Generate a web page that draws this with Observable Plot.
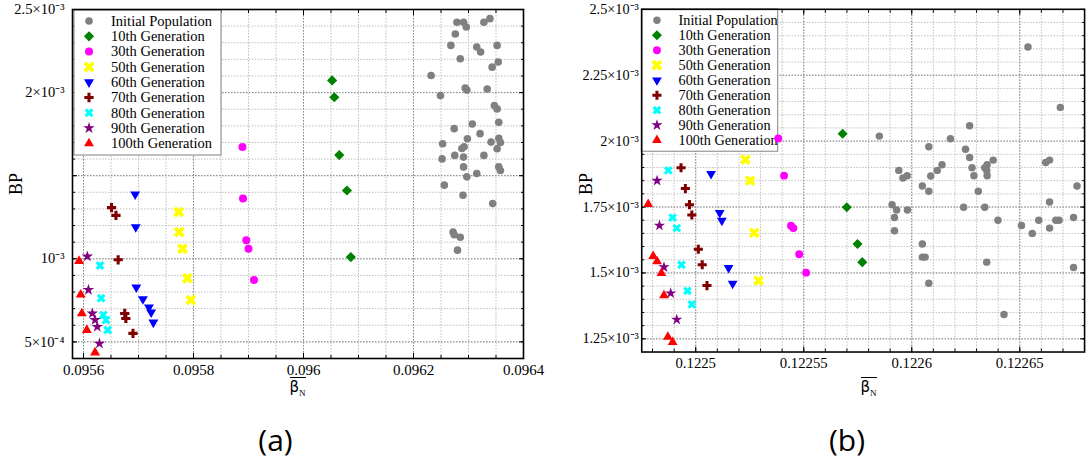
<!DOCTYPE html>
<html><head><meta charset="utf-8">
<script src="https://cdn.jsdelivr.net/npm/d3@7"></script>
<script src="https://cdn.jsdelivr.net/npm/@observablehq/plot@0.6"></script>
<style>
html,body{margin:0;padding:0;background:#fff;overflow:hidden;}
#root{position:relative;width:1089px;height:463px;overflow:hidden;background:#fff;}
.panel{position:absolute;top:0;}
.xlab{position:absolute;top:377px;transform:translateX(-50%);border-top:1.3px solid #000;padding-top:2px;line-height:15px;font-family:"DejaVu Sans";font-size:15px;white-space:nowrap;}
.xlab span{font-family:"Liberation Serif";font-size:9px;position:relative;top:4px;}
.ylab{position:absolute;font-family:"Liberation Serif";font-size:18px;line-height:18px;transform:translate(-50%,-50%) rotate(-90deg);white-space:nowrap;}
.cap{position:absolute;top:422px;transform:translateX(-50%);font-family:"Open Sans";font-size:30px;line-height:36px;white-space:nowrap;}
</style></head>
<body>
<div id="root">
  <div id="pa" class="panel" style="left:0px"></div>
  <div id="pb" class="panel" style="left:545px"></div>
  <div class="ylab" style="left:16px;top:184px">BP</div>
  <div class="ylab" style="left:586px;top:184px">BP</div>
  <div class="xlab" style="left:297.5px">β<span>N</span></div>
  <div class="xlab" style="left:868.5px">β<span>N</span></div>
  <div class="cap" style="left:275.5px">(a)</div>
  <div class="cap" style="left:847px">(b)</div>
</div>
<script>
// ---------- Series names & colours ----------
const seriesNames = ["Initial Population","10th Generation","30th Generation","50th Generation","60th Generation","70th Generation","80th Generation","90th Generation","100th Generation"];
const seriesColors = ["#808080","#008000","#ff00ff","#ffff00","#0000ff","#800000","#00ffff","#800080","#ff0000"];

// ---------- Panel (a) data: [beta_N, BP] ----------
const aInitial = [[0.096279,2.423e-3],[0.096291,2.423e-3],[0.096296,2.395e-3],[0.096328,2.423e-3],[0.096339,2.445e-3],[0.096276,2.353e-3],[0.096268,2.284e-3],[0.096315,2.274e-3],[0.096322,2.244e-3],[0.096352,2.284e-3],[0.096285,2.204e-3],[0.096354,2.184e-3],[0.096343,2.153e-3],[0.096232,2.103e-3],[0.096249,1.982e-3],[0.096294,2.027e-3],[0.096297,2.015e-3],[0.096334,2.022e-3],[0.096347,1.922e-3],[0.096352,1.902e-3],[0.096355,1.821e-3],[0.096307,1.811e-3],[0.096274,1.783e-3],[0.096321,1.753e-3],[0.096298,1.722e-3],[0.096341,1.702e-3],[0.096355,1.725e-3],[0.096358,1.700e-3],[0.096352,1.662e-3],[0.096253,1.692e-3],[0.096292,1.674e-3],[0.096288,1.664e-3],[0.096275,1.622e-3],[0.096291,1.612e-3],[0.096328,1.622e-3],[0.096252,1.601e-3],[0.096291,1.553e-3],[0.096355,1.553e-3],[0.096358,1.531e-3],[0.096315,1.513e-3],[0.096297,1.493e-3],[0.096256,1.443e-3],[0.096290,1.382e-3],[0.096344,1.332e-3],[0.096272,1.161e-3],[0.096274,1.145e-3],[0.096285,1.130e-3],[0.096280,1.052e-3]];
const a10 = [[0.096052,2.073e-3],[0.096056,1.972e-3],[0.096065,1.624e-3],[0.096079,1.411e-3],[0.096086,1.010e-3]];
const a30 = [[0.095889,1.672e-3],[0.095890,1.362e-3],[0.095896,1.111e-3],[0.095900,1.060e-3],[0.095910,0.873e-3]];
const a50 = [[0.095773,1.281e-3],[0.095774,1.161e-3],[0.095780,1.060e-3],[0.095789,0.883e-3],[0.095795,0.752e-3]];
const a60 = [[0.095694,1.388e-3],[0.095695,1.191e-3],[0.095696,0.828e-3],[0.095708,0.758e-3],[0.095719,0.708e-3],[0.095723,0.678e-3],[0.095727,0.617e-3]];
const a70 = [[0.095651,1.308e-3],[0.095659,1.261e-3],[0.095663,0.994e-3],[0.095675,0.671e-3],[0.095677,0.641e-3],[0.095690,0.551e-3]];
const a80 = [[0.095630,0.960e-3],[0.095632,0.762e-3],[0.095636,0.662e-3],[0.095641,0.632e-3],[0.095644,0.571e-3]];
const a90 = [[0.095607,1.014e-3],[0.095609,0.813e-3],[0.095616,0.671e-3],[0.095621,0.632e-3],[0.095625,0.591e-3],[0.095629,0.490e-3]];
const a100 = [[0.095592,0.986e-3],[0.095595,0.784e-3],[0.095597,0.671e-3],[0.095606,0.571e-3],[0.095621,0.436e-3]];

// ---------- Panel (b) data ----------
const bInitial = [[0.1226538,2.357e-3],[0.1226688,2.128e-3],[0.1225850,2.019e-3],[0.1226268,2.058e-3],[0.1226179,2.009e-3],[0.1226079,1.979e-3],[0.1226249,1.969e-3],[0.1226268,1.938e-3],[0.1226377,1.928e-3],[0.1225940,1.889e-3],[0.1225959,1.860e-3],[0.1225979,1.869e-3],[0.1226088,1.868e-3],[0.1226118,1.889e-3],[0.1226140,1.910e-3],[0.1226279,1.899e-3],[0.1226338,1.899e-3],[0.1226349,1.910e-3],[0.1226347,1.889e-3],[0.1226349,1.869e-3],[0.1226288,1.869e-3],[0.1226049,1.830e-3],[0.1226079,1.810e-3],[0.1226308,1.810e-3],[0.1226620,1.919e-3],[0.1226638,1.928e-3],[0.1226765,1.830e-3],[0.1225909,1.759e-3],[0.1225930,1.739e-3],[0.1225980,1.739e-3],[0.1225920,1.710e-3],[0.1225920,1.660e-3],[0.1226240,1.749e-3],[0.1226338,1.749e-3],[0.1226638,1.769e-3],[0.1226399,1.700e-3],[0.1226508,1.680e-3],[0.1226558,1.650e-3],[0.1226588,1.700e-3],[0.1226638,1.670e-3],[0.1226667,1.700e-3],[0.1226682,1.700e-3],[0.1226749,1.710e-3],[0.1226049,1.610e-3],[0.1226049,1.560e-3],[0.1226062,1.560e-3],[0.1226347,1.541e-3],[0.1226079,1.461e-3],[0.1226427,1.342e-3],[0.1226749,1.521e-3]];
const b10 = [[0.1225680,2.028e-3],[0.1225699,1.749e-3],[0.1225749,1.610e-3],[0.1225771,1.541e-3]];
const b30 = [[0.1225382,2.010e-3],[0.1225409,1.869e-3],[0.1225441,1.679e-3],[0.1225452,1.670e-3],[0.1225479,1.571e-3],[0.1225511,1.501e-3]];
const b50 = [[0.1225230,1.930e-3],[0.1225252,1.850e-3],[0.1225271,1.652e-3],[0.1225291,1.471e-3]];
const b60 = [[0.1225071,1.876e-3],[0.1225111,1.728e-3],[0.1225121,1.699e-3],[0.1225152,1.519e-3],[0.1225171,1.460e-3]];
const b70 = [[0.1224932,1.899e-3],[0.1224952,1.820e-3],[0.1224971,1.759e-3],[0.1224982,1.720e-3],[0.1225012,1.590e-3],[0.1225030,1.531e-3],[0.1225052,1.452e-3]];
const b80 = [[0.1224873,1.889e-3],[0.1224893,1.710e-3],[0.1224912,1.670e-3],[0.1224934,1.531e-3],[0.1224962,1.432e-3],[0.1224982,1.381e-3]];
const b90 = [[0.1224821,1.850e-3],[0.1224832,1.680e-3],[0.1224853,1.522e-3],[0.1224884,1.423e-3],[0.1224912,1.323e-3]];
const b100 = [[0.1224780,1.761e-3],[0.1224803,1.564e-3],[0.1224821,1.544e-3],[0.1224841,1.499e-3],[0.1224853,1.415e-3],[0.1224871,1.257e-3],[0.1224893,1.237e-3]];

// ---------- Tick values & labels ----------
const aXTicks = [0.0956, 0.0958, 0.096, 0.0962, 0.0964];
const aXLabels = ["0.0956","0.0958","0.096","0.0962","0.0964"];
const aYTicks = [5e-4, 1e-3, 2e-3, 2.5e-3];
const aYLabels = ["5×10⁻⁴","10⁻³","2×10⁻³","2.5×10⁻³"];
const bXTicks = [0.1225, 0.12255, 0.1226, 0.12265];
const bXLabels = ["0.1225","0.12255","0.1226","0.12265"];
const bYTicks = [1.25e-3, 1.5e-3, 1.75e-3, 2e-3, 2.25e-3, 2.5e-3];
const bYLabels = ["1.25×10⁻³","1.5×10⁻³","1.75×10⁻³","2×10⁻³","2.25×10⁻³","2.5×10⁻³"];

// ---------- Custom symbols ----------
const s3 = Math.sqrt(3);
const symTriDown = {draw(c, size) { const y = -Math.sqrt(size / (s3 * 3)); c.moveTo(0, -y * 2); c.lineTo(-s3 * y, y); c.lineTo(s3 * y, y); c.closePath(); }};
const symX = {draw(c, size) {
  const r = Math.sqrt(size / 5) / 2;
  const pts = [[-3*r,-r],[-r,-r],[-r,-3*r],[r,-3*r],[r,-r],[3*r,-r],[3*r,r],[r,r],[r,3*r],[-r,3*r],[-r,r],[-3*r,r]];
  const k = Math.SQRT1_2;
  pts.forEach(([x, y], i) => { const X = (x - y) * k, Y = (x + y) * k; i ? c.lineTo(X, Y) : c.moveTo(X, Y); });
  c.closePath();
}};
const seriesSymbols = [d3.symbolCircle, d3.symbolDiamond2, d3.symbolCircle, symX, symTriDown, d3.symbolCross, symX, d3.symbolStar, d3.symbolTriangle];
const seriesR = [3.8, 4.6, 4, 4.9, 3.7, 3.9, 4, 3.6, 3.7];

const rng = (start, stop, step) => d3.range(Math.round((stop - start) / step) + 1).map(i => start + i * step);

function labelOf(ticks, labels) {
  return d => { const i = ticks.findIndex(t => Math.abs(t - d) < 1e-12); return i >= 0 ? labels[i] : ""; };
}

function panel(o) {
  const ticks = (xs, ys, len) => [
    Plot.axisX(xs, {anchor: "bottom", tickSize: len, dy: -len, tickFormat: () => "", label: null}),
    Plot.axisX(xs, {anchor: "top", tickSize: len, dy: len, tickFormat: () => "", label: null}),
    Plot.axisY(ys, {anchor: "left", tickSize: len, dx: len, tickFormat: () => "", label: null}),
    Plot.axisY(ys, {anchor: "right", tickSize: len, dx: -len, tickFormat: () => "", label: null})
  ];
  const svg = Plot.plot({
    width: o.width, height: 400,
    marginLeft: o.marginLeft, marginRight: o.marginRight, marginTop: 9, marginBottom: 42,
    x: {domain: o.xDomain}, y: {domain: o.yDomain},
    style: {fontFamily: "Liberation Serif", fontSize: "14px", color: "#000", background: "transparent", overflow: "visible"},
    marks: [
      Plot.ruleX(o.xMinor, {stroke: "#b8b8b8", strokeWidth: 0.9, strokeDasharray: "1.5,1.5"}),
      Plot.ruleY(o.yMinor, {stroke: "#b8b8b8", strokeWidth: 0.9, strokeDasharray: "1.5,1.5"}),
      Plot.ruleX(o.xMajor, {stroke: "#808080", strokeWidth: 0.9, strokeDasharray: "1.5,1.5"}),
      Plot.ruleY(o.yMajor, {stroke: "#808080", strokeWidth: 0.9, strokeDasharray: "1.5,1.5"}),
      ...ticks(o.xMinor, o.yMinor, 3),
      ...ticks(o.xMajor, o.yMajor, 5),
      Plot.axisX(o.xTicks, {anchor: "bottom", tickSize: 0, tickPadding: 6, fontSize: 15, tickFormat: labelOf(o.xTicks, o.xLabels), label: null}),
      Plot.axisY(o.yTicks, {anchor: "left", tickSize: 0, tickPadding: o.yPad, fontSize: 14.5, tickFormat: labelOf(o.yTicks, o.yLabels), label: null}),
      ...o.series.map((data, i) => Plot.dot(data, {x: d => d[0], y: d => d[1], fill: seriesColors[i], stroke: "none", symbol: seriesSymbols[i], r: seriesR[i]})),
      Plot.frame({stroke: "#000", strokeWidth: 1.6})
    ]
  });
  // legend, inserted beneath the dots
  const g = d3.create("svg:g").attr("class", "legend").attr("text-anchor", "start");
  g.append("rect").attr("x", o.leg.x).attr("y", o.leg.y).attr("width", o.leg.w).attr("height", o.leg.h)
    .attr("fill", "#fff").attr("stroke", "#808080").attr("stroke-width", 1);
  seriesNames.forEach((name, i) => {
    const cy = o.leg.y0 + i * o.leg.dy;
    g.append("path").attr("transform", `translate(${o.leg.sx},${cy})`)
      .attr("d", d3.symbol(seriesSymbols[i], Math.PI * seriesR[i] * seriesR[i])()).attr("fill", seriesColors[i]);
    g.append("text").attr("x", o.leg.tx).attr("y", cy).attr("dy", "0.33em").attr("text-anchor", "start")
      .attr("font-family", "Liberation Serif").attr("font-size", 14.5).attr("fill", "#000").text(name);
  });
  const firstDot = svg.querySelector('g[aria-label="dot"]');
  if (firstDot) svg.insertBefore(g.node(), firstDot); else svg.appendChild(g.node());
  return svg;
}

const svgA = panel({
  width: 543, marginLeft: 72, marginRight: 20,
  xDomain: [0.09558, 0.0964], yDomain: [0.4e-3, 2.5e-3],
  xMinor: rng(0.0956, 0.0964, 0.00005), yMinor: rng(0.5e-3, 2.4e-3, 1e-4),
  xMajor: rng(0.0956, 0.0964, 0.0002), yMajor: rng(0.5e-3, 2.5e-3, 5e-4),
  xTicks: aXTicks, xLabels: aXLabels, yTicks: aYTicks, yLabels: aYLabels, yPad: 8,
  series: [aInitial, a10, a30, a50, a60, a70, a80, a90, a100],
  leg: {x: 74, y: 10, w: 147, h: 145, y0: 21, dy: 15.3, sx: 89, tx: 111}
});
const svgB = panel({
  width: 554, marginLeft: 98, marginRight: 5,
  xDomain: [0.122475, 0.12268], yDomain: [1.2e-3, 2.5e-3],
  xMinor: rng(0.12248, 0.12268, 0.00001), yMinor: rng(1.25e-3, 2.45e-3, 0.05e-3),
  xMajor: rng(0.1225, 0.12265, 0.00005), yMajor: rng(1.25e-3, 2.5e-3, 0.25e-3),
  xTicks: bXTicks, xLabels: bXLabels, yTicks: bYTicks, yLabels: bYLabels, yPad: 3,
  series: [bInitial, b10, b30, b50, b60, b70, b80, b90, b100],
  leg: {x: 98, y: 9, w: 139, h: 145, y0: 20.7, dy: 15.25, sx: 114, tx: 136}
});
document.getElementById("pa").appendChild(svgA);
document.getElementById("pb").appendChild(svgB);
</script>
</body></html>
